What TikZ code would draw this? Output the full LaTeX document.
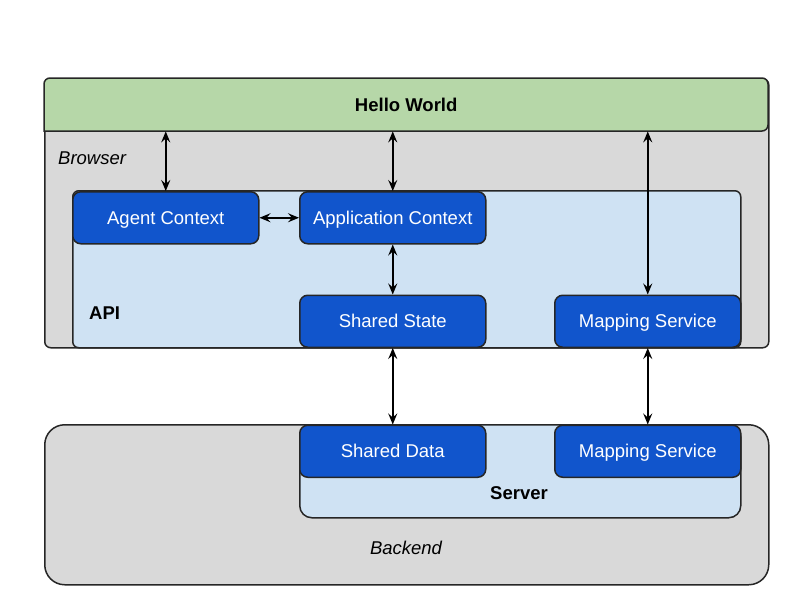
\documentclass[tikz,border=0pt]{standalone}
\usepackage{fontspec}
\setmainfont{Liberation Sans}
\usetikzlibrary{arrows.meta}
\definecolor{hwgreen}{HTML}{B6D7A8}
\definecolor{boxgray}{HTML}{D9D9D9}
\definecolor{lightblue}{HTML}{CFE2F3}
\definecolor{compblue}{HTML}{1155CC}
\begin{document}
\begin{tikzpicture}[x=1pt,y=-1pt,
  every node/.style={font=\fontsize{18.5}{22}\selectfont},
  region/.style={draw=black!85,line width=1.5pt,inner sep=0pt},
  comp/.style={draw=black!85,fill=compblue,text=white,line width=1.5pt,rounded corners=8pt,
    minimum width=186pt,minimum height=52pt,inner sep=0pt,text height=14pt,text depth=1pt,anchor=north west},
  conn/.style={line width=1.5pt,{Stealth[length=11pt,width=9pt,inset=4pt]}-{Stealth[length=11pt,width=9pt,inset=4pt]}},
  lbl/.style={inner sep=0pt,text height=14pt,text depth=1pt}]
\useasboundingbox (0,0) rectangle (800,600);
% Browser
\node[region,fill=boxgray,rounded corners=6pt,minimum width=724pt,minimum height=269pt,anchor=north west] (browser) at (44,78) {};
\fill[hwgreen] (44,131) [rounded corners=6pt] -- (44,78) -- (768,78) -- (768,131) [sharp corners] -- cycle;
\draw[black!85,line width=1.5pt] (44,131) [rounded corners=6pt] -- (44,78) -- (768,78) -- (768,131) [sharp corners] -- cycle;
\node[lbl,minimum width=724pt,minimum height=53pt,anchor=north west] (hello) at (44,78) {\bfseries Hello World};
\node[lbl,anchor=west] (browserlbl) at (58,158) {\itshape Browser};
% API
\node[region,fill=lightblue,rounded corners=6pt,minimum width=668pt,minimum height=157pt,anchor=north west] (api) at (72,190) {};
\node[lbl,anchor=west] (apilbl) at (89,313) {\bfseries API};
\node[comp] (agent) at (72,191) {Agent Context};
\node[comp] (appctx) at (299,191) {Application Context};
\node[comp] (state) at (299,294.5) {Shared State};
\node[comp] (mapa) at (554,294.5) {Mapping Service};
% Backend
\node[region,fill=boxgray,rounded corners=20pt,minimum width=724pt,minimum height=160pt,anchor=north west] (backend) at (44,424) {};
\node[lbl] (backendlbl) at (406,548) {\itshape Backend};
\node[region,fill=lightblue,rounded corners=12pt,minimum width=441pt,minimum height=93pt,anchor=north west] (server) at (299,424) {};
\node[lbl] (serverlbl) at (519,493) {\bfseries Server};
\node[comp] (data) at (299,424.5) {Shared Data};
\node[comp] (mapb) at (554,424.5) {Mapping Service};
% connectors
\draw[conn] (agent.north |- hello.south) -- (agent.north);
\draw[conn] (appctx.north |- hello.south) -- (appctx.north);
\draw[conn] (mapa.north |- hello.south) -- (mapa.north);
\draw[conn] (agent.east) -- (appctx.west);
\draw[conn] (appctx.south) -- (state.north);
\draw[conn] (state.south) -- (data.north);
\draw[conn] (mapa.south) -- (mapb.north);
\end{tikzpicture}
\end{document}
